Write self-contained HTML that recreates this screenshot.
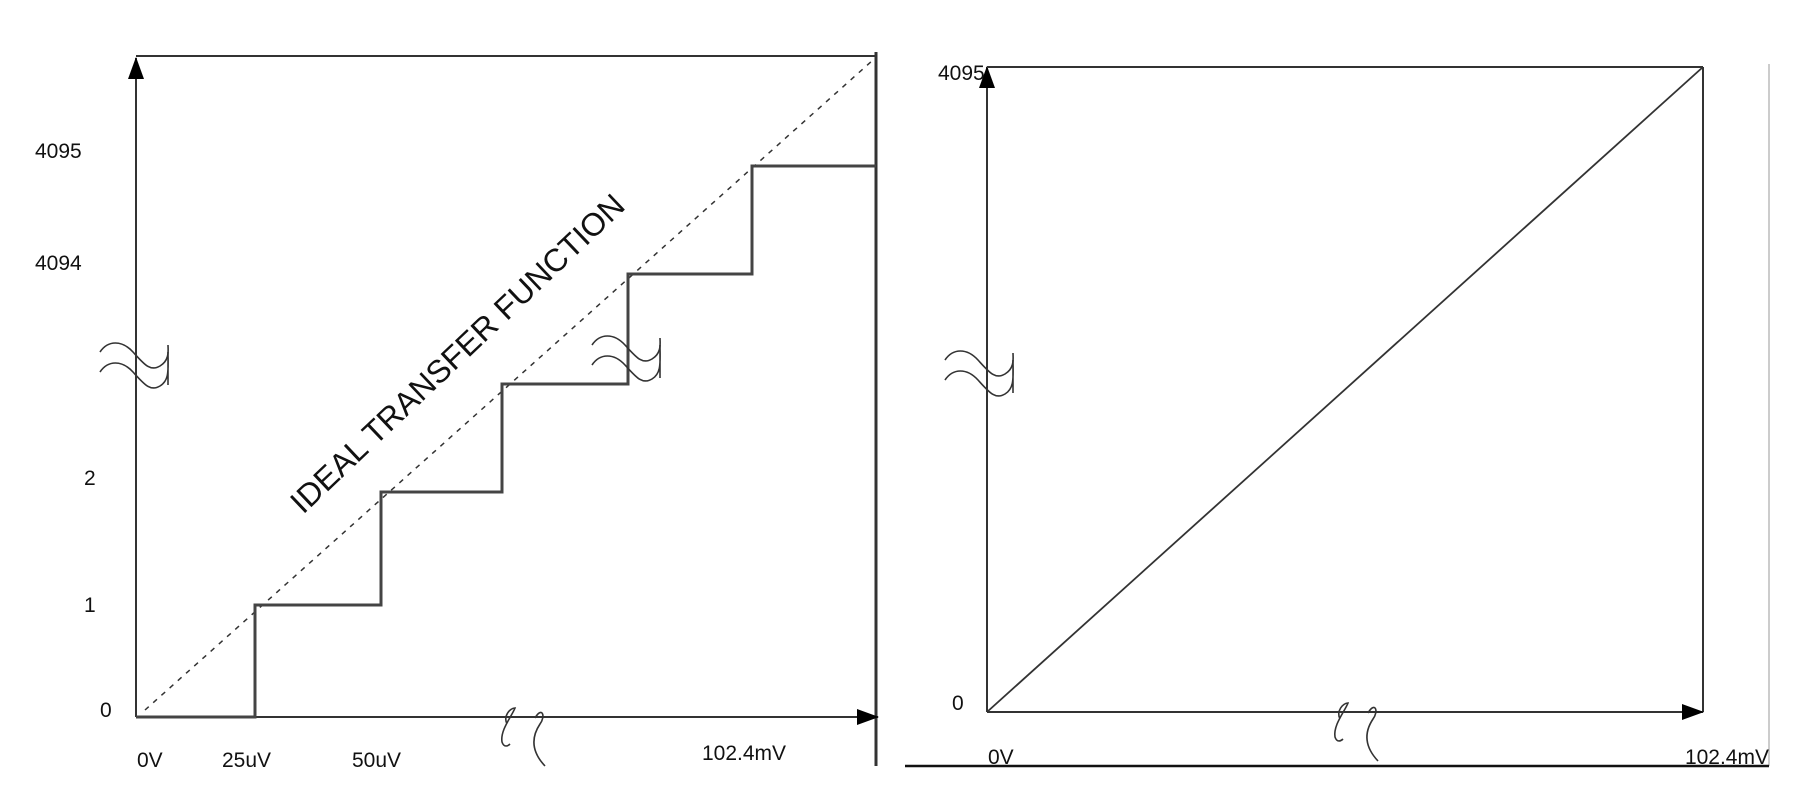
<!DOCTYPE html>
<html><head><style>html,body{margin:0;padding:0;background:#fff;}svg{display:block}</style></head>
<body>
<svg width="1810" height="790" viewBox="0 0 1810 790" xmlns="http://www.w3.org/2000/svg" font-family="Liberation Sans, sans-serif" fill="none">
<defs>
<marker id="ar" markerWidth="22" markerHeight="16" refX="21" refY="8" orient="auto" markerUnits="userSpaceOnUse">
<path d="M0,0 L22,8 L0,16 Z" fill="#000"/></marker>
</defs>
<g stroke="#333" stroke-width="2">
<!-- left panel -->
<line x1="136" y1="717" x2="136" y2="58" marker-end="url(#ar)"/>
<line x1="136" y1="56" x2="876" y2="56"/>
<line x1="876" y1="52" x2="876" y2="766" stroke-width="3"/>
<line x1="136" y1="717" x2="878" y2="717" marker-end="url(#ar)"/>
<line x1="145" y1="710" x2="873" y2="60" stroke-dasharray="5,6" stroke-width="1.5"/>
<polyline points="136,717 255,717 255,605 381,605 381,492 502,492 502,384 628,384 628,274 752,274 752,166 876,166" stroke-width="3" stroke="#444"/>
<!-- breaks -->
<path d="M100,352 C108,340 122,340 133,352 S150,372 160,366 S168,350 168,345" stroke-width="1.6"/>
<path d="M100,372 C108,360 122,360 133,372 S150,392 160,386 S168,368 168,352 L168,385" stroke-width="1.6"/>
<path d="M592,345 C600,333 614,333 625,345 S642,365 652,359 S660,343 660,338" stroke-width="1.6"/>
<path d="M592,365 C600,353 614,353 625,365 S642,385 652,379 S660,361 660,345 L660,378" stroke-width="1.6"/>
<path d="M507,724 C503,716 510,708 515,708 C512,716 500,730 502,742 C504,748 508,746 510,744" stroke-width="1.6"/>
<path d="M535,718 C542,706 546,716 540,724 C532,736 530,750 545,766" stroke-width="1.6"/>
<!-- right panel -->
<line x1="987" y1="712" x2="987" y2="67" marker-end="url(#ar)"/>
<line x1="987" y1="67" x2="1703" y2="67"/>
<line x1="1703" y1="67" x2="1703" y2="712"/>
<line x1="987" y1="712" x2="1703" y2="712" marker-end="url(#ar)"/>
<line x1="987" y1="712" x2="1703" y2="67" stroke-width="1.8"/>
<line x1="1769" y1="64" x2="1769" y2="766" stroke="#ccc"/>
<line x1="905" y1="766" x2="1769" y2="766" stroke="#111" stroke-width="2.5"/>
<path d="M945,360 C953,348 967,348 978,360 S995,380 1005,374 S1013,358 1013,353" stroke-width="1.6"/>
<path d="M945,380 C953,368 967,368 978,380 S995,400 1005,394 S1013,376 1013,360 L1013,393" stroke-width="1.6"/>
<path d="M1340,719 C1336,711 1343,703 1348,703 C1345,711 1333,725 1335,737 C1337,743 1341,741 1343,739" stroke-width="1.6"/>
<path d="M1368,713 C1375,701 1379,711 1373,719 C1365,731 1363,745 1378,761" stroke-width="1.6"/>
</g>
<g fill="#111" font-size="21">
<text x="35" y="158">4095</text>
<text x="35" y="270">4094</text>
<text x="84" y="485">2</text>
<text x="84" y="612">1</text>
<text x="100" y="717">0</text>
<text x="137" y="767">0V</text>
<text x="222" y="767">25uV</text>
<text x="352" y="767">50uV</text>
<text x="702" y="760">102.4mV</text>
<text x="938" y="80">4095</text>
<text x="952" y="710">0</text>
<text x="988" y="764">0V</text>
<text x="1769" y="764" text-anchor="end">102.4mV</text>
<text x="0" y="0" font-size="32" transform="translate(303,515) rotate(-43.5)">IDEAL TRANSFER FUNCTION</text>
</g>
</svg>
</body></html>
